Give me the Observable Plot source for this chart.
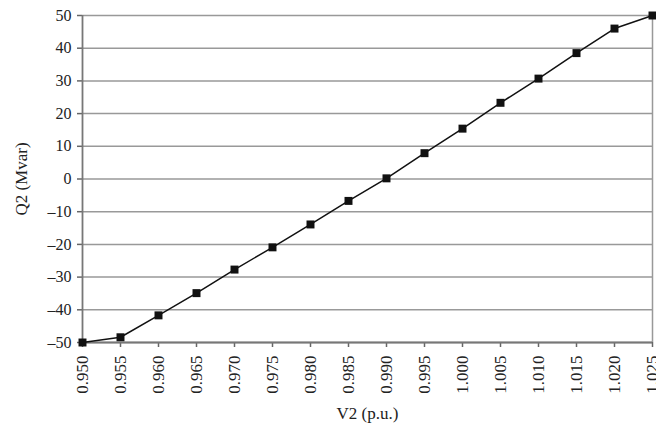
<!DOCTYPE html>
<html>
<head>
<meta charset="utf-8">
<script src="https://cdn.jsdelivr.net/npm/d3@7"></script>
<script src="https://cdn.jsdelivr.net/npm/@observablehq/plot@0.6"></script>
<style>
  html, body { margin: 0; padding: 0; background: #fff; }
</style>
</head>
<body>
<div id="chart"></div>
<script>
const v2 = [0.950, 0.955, 0.960, 0.965, 0.970, 0.975, 0.980, 0.985, 0.990, 0.995, 1.000, 1.005, 1.010, 1.015, 1.020, 1.025];
const q2 = [-50, -48.4, -41.7, -34.9, -27.7, -20.9, -13.9, -6.7, 0.2, 7.9, 15.4, 23.3, 30.7, 38.5, 46.0, 50];
const xTicks = v2;
const yTicks = [-50, -40, -30, -20, -10, 0, 10, 20, 30, 40, 50];

const data = v2.map((v, i) => ({v, q: q2[i]}));
const font = "Liberation Serif, Times New Roman, serif";

const chart = Plot.plot({
  width: 656,
  height: 424,
  marginLeft: 82,
  marginRight: 4,
  marginTop: 15,
  marginBottom: 82,
  style: {fontFamily: font, fontSize: "16px", color: "#222", background: "#fff"},
  x: {domain: [0.950, 1.025]},
  y: {domain: [-50, 50]},
  marks: [
    Plot.ruleY(yTicks, {stroke: "#999", strokeWidth: 1.5}),
    Plot.ruleX([1.025], {stroke: "#999", strokeWidth: 1.5}),
    Plot.axisY({
      ticks: yTicks, tickSize: 5, tickPadding: 6, stroke: "#666", strokeWidth: 1.5,
      fontSize: 16, fontFamily: font,
      tickFormat: d => d < 0 ? "\u2013" + Math.abs(d) : String(d),
      label: null
    }),
    Plot.axisX({
      ticks: xTicks, tickSize: 5, tickPadding: 8, tickRotate: -90, stroke: "#666", strokeWidth: 1.5,
      fontSize: 17, fontFamily: font,
      tickFormat: d => d.toFixed(3),
      label: null
    }),
    Plot.axisY({ticks: [], label: "Q2 (Mvar)", labelAnchor: "center", labelArrow: "none", labelOffset: 68, fontSize: 17, fontFamily: font}),
    Plot.axisX({ticks: [], label: "V2 (p.u.)", labelAnchor: "center", labelArrow: "none", labelOffset: 76, fontSize: 17, fontFamily: font}),
    Plot.ruleX([0.950], {stroke: "#777", strokeWidth: 1.8}),
    Plot.ruleY([-50], {stroke: "#777", strokeWidth: 1.8}),
    Plot.line(data, {x: "v", y: "q", stroke: "#111", strokeWidth: 1.5}),
    Plot.dot(data, {x: "v", y: "q", symbol: "square", r: 4.5, fill: "#111", stroke: "none"})
  ]
});
document.getElementById("chart").appendChild(chart);
</script>
</body>
</html>
